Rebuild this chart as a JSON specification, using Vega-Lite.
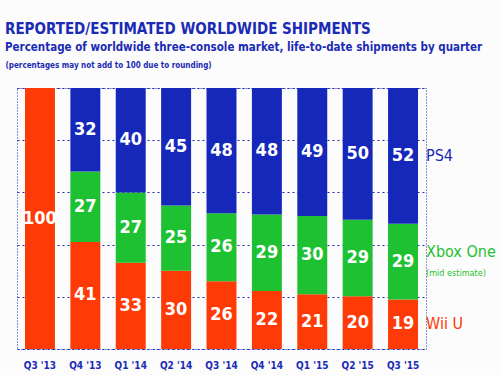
{
  "$schema": "https://vega.github.io/schema/vega-lite/v6.json",
  "width": 409,
  "height": 261,
  "autosize": {"type": "none"},
  "padding": {"left": 17, "top": 88, "right": 74, "bottom": 26},
  "background": "#fcfcfc",
  "title": {
    "text": "REPORTED/ESTIMATED WORLDWIDE SHIPMENTS",
    "subtitle": "Percentage of worldwide three-console market, life-to-date shipments by quarter",
    "anchor": "start",
    "frame": "group",
    "dx": -12,
    "offset": 8,
    "font": "DejaVu Sans Condensed, sans-serif",
    "fontSize": 15,
    "fontWeight": "bold",
    "color": "#1b2bb5",
    "subtitleFont": "DejaVu Sans Condensed, sans-serif",
    "subtitleFontSize": 11.5,
    "subtitleFontWeight": "bold",
    "subtitleColor": "#1b2bb5",
    "subtitlePadding": 5
  },
  "config": {
    "view": {"stroke": "#1b2bb5", "strokeDash": [1, 2], "strokeWidth": 1},
    "font": "DejaVu Sans Condensed, sans-serif"
  },
  "data": {
    "values": [
      {"quarter": "Q3 '13", "console": "Wii U", "share": 100},
      {"quarter": "Q3 '13", "console": "Xbox One", "share": 0},
      {"quarter": "Q3 '13", "console": "PS4", "share": 0},
      {"quarter": "Q4 '13", "console": "Wii U", "share": 41},
      {"quarter": "Q4 '13", "console": "Xbox One", "share": 27},
      {"quarter": "Q4 '13", "console": "PS4", "share": 32},
      {"quarter": "Q1 '14", "console": "Wii U", "share": 33},
      {"quarter": "Q1 '14", "console": "Xbox One", "share": 27},
      {"quarter": "Q1 '14", "console": "PS4", "share": 40},
      {"quarter": "Q2 '14", "console": "Wii U", "share": 30},
      {"quarter": "Q2 '14", "console": "Xbox One", "share": 25},
      {"quarter": "Q2 '14", "console": "PS4", "share": 45},
      {"quarter": "Q3 '14", "console": "Wii U", "share": 26},
      {"quarter": "Q3 '14", "console": "Xbox One", "share": 26},
      {"quarter": "Q3 '14", "console": "PS4", "share": 48},
      {"quarter": "Q4 '14", "console": "Wii U", "share": 22},
      {"quarter": "Q4 '14", "console": "Xbox One", "share": 29},
      {"quarter": "Q4 '14", "console": "PS4", "share": 48},
      {"quarter": "Q1 '15", "console": "Wii U", "share": 21},
      {"quarter": "Q1 '15", "console": "Xbox One", "share": 30},
      {"quarter": "Q1 '15", "console": "PS4", "share": 49},
      {"quarter": "Q2 '15", "console": "Wii U", "share": 20},
      {"quarter": "Q2 '15", "console": "Xbox One", "share": 29},
      {"quarter": "Q2 '15", "console": "PS4", "share": 50},
      {"quarter": "Q3 '15", "console": "Wii U", "share": 19},
      {"quarter": "Q3 '15", "console": "Xbox One", "share": 29},
      {"quarter": "Q3 '15", "console": "PS4", "share": 52}
    ]
  },
  "transform": [
    {"calculate": "indexof(['Wii U', 'Xbox One', 'PS4'], datum.console)", "as": "stack_rank"}
  ],
  "resolve": {"axis": {"x": "independent"}, "scale": {"color": "independent"}},
  "layer": [
    {
      "mark": {"type": "bar"},
      "encoding": {
        "x": {
          "field": "quarter", "type": "nominal", "sort": null,
          "scale": {"paddingInner": 0.34, "paddingOuter": 0.176},
          "axis": {
            "title": null, "labelAngle": 0, "ticks": false, "domain": false,
            "labelColor": "#1b2bb5", "labelFontSize": 10, "labelFontWeight": "bold",
            "labelPadding": 11
          }
        },
        "y": {
          "field": "share", "type": "quantitative", "stack": "normalize",
          "scale": {"domain": [0, 1], "nice": false},
          "axis": {
            "title": null, "labels": false, "ticks": false, "domain": false,
            "values": [0, 0.2, 0.4, 0.6, 0.8, 1],
            "grid": true, "gridColor": "#1b2bb5", "gridDash": [2, 3], "gridWidth": 1
          }
        },
        "order": {"field": "stack_rank", "type": "quantitative", "sort": "ascending"},
        "color": {
          "field": "console", "type": "nominal",
          "scale": {"domain": ["PS4", "Xbox One", "Wii U"], "range": ["#1628b9", "#1ec131", "#fe3a06"]},
          "legend": null
        }
      }
    },
    {
      "mark": {"type": "text", "fontSize": 18, "fontWeight": "bold", "baseline": "middle"},
      "transform": [{"filter": "datum.share > 0"}],
      "encoding": {
        "x": {
          "field": "quarter", "type": "nominal", "sort": null,
          "axis": {
            "orient": "top", "labels": false, "ticks": false, "domain": false, "grid": false,
            "title": "(percentages may not add to 100 due to rounding)",
            "titleFontSize": 8, "titleFontWeight": "bold", "titleColor": "#1b2bb5",
            "titleAnchor": "start", "titleAlign": "left", "titleBaseline": "alphabetic",
            "titleX": -12, "titleY": -21
          }
        },
        "y": {"field": "share", "type": "quantitative", "stack": "normalize", "bandPosition": 0.5},
        "order": {"field": "stack_rank", "type": "quantitative", "sort": "ascending"},
        "color": {
          "field": "console", "type": "nominal",
          "scale": {"domain": ["PS4", "Xbox One", "Wii U"], "range": ["#ffffff", "#ffffff", "#ffffff"]},
          "legend": null
        },
        "text": {"field": "share", "type": "quantitative"}
      }
    },
    {
      "mark": {"type": "text", "fontSize": 16, "align": "left", "baseline": "middle", "dx": 23},
      "transform": [{"filter": "datum.quarter == \"Q3 '15\""}],
      "encoding": {
        "x": {"field": "quarter", "type": "nominal", "sort": null, "axis": null},
        "y": {"field": "share", "type": "quantitative", "stack": "normalize", "bandPosition": 0.5},
        "order": {"field": "stack_rank", "type": "quantitative", "sort": "ascending"},
        "color": {
          "field": "console", "type": "nominal",
          "scale": {"domain": ["PS4", "Xbox One", "Wii U"], "range": ["#1b2bb5", "#1ec131", "#fe3a06"]},
          "legend": null
        },
        "text": {"condition": {"test": "datum.console == 'Xbox One'", "value": ""}, "field": "console", "type": "nominal"}
      }
    },
    {
      "mark": {"type": "text", "fontSize": 16, "align": "left", "baseline": "middle", "dx": 23, "dy": -10},
      "transform": [{"filter": "datum.quarter == \"Q3 '15\""}],
      "encoding": {
        "x": {"field": "quarter", "type": "nominal", "sort": null, "axis": null},
        "y": {"field": "share", "type": "quantitative", "stack": "normalize", "bandPosition": 0.5},
        "order": {"field": "stack_rank", "type": "quantitative", "sort": "ascending"},
        "color": {
          "field": "console", "type": "nominal",
          "scale": {"domain": ["PS4", "Xbox One", "Wii U"], "range": ["#1ec131", "#1ec131", "#1ec131"]},
          "legend": null
        },
        "text": {"condition": {"test": "datum.console == 'Xbox One'", "value": "Xbox One"}, "value": ""}
      }
    },
    {
      "mark": {"type": "text", "fontSize": 9, "align": "left", "baseline": "middle", "dx": 23, "dy": 11},
      "transform": [{"filter": "datum.quarter == \"Q3 '15\""}],
      "encoding": {
        "x": {"field": "quarter", "type": "nominal", "sort": null, "axis": null},
        "y": {"field": "share", "type": "quantitative", "stack": "normalize", "bandPosition": 0.5},
        "order": {"field": "stack_rank", "type": "quantitative", "sort": "ascending"},
        "color": {
          "field": "console", "type": "nominal",
          "scale": {"domain": ["PS4", "Xbox One", "Wii U"], "range": ["#1ec131", "#1ec131", "#1ec131"]},
          "legend": null
        },
        "text": {"condition": {"test": "datum.console == 'Xbox One'", "value": "(mid estimate)"}, "value": ""}
      }
    }
  ]
}
